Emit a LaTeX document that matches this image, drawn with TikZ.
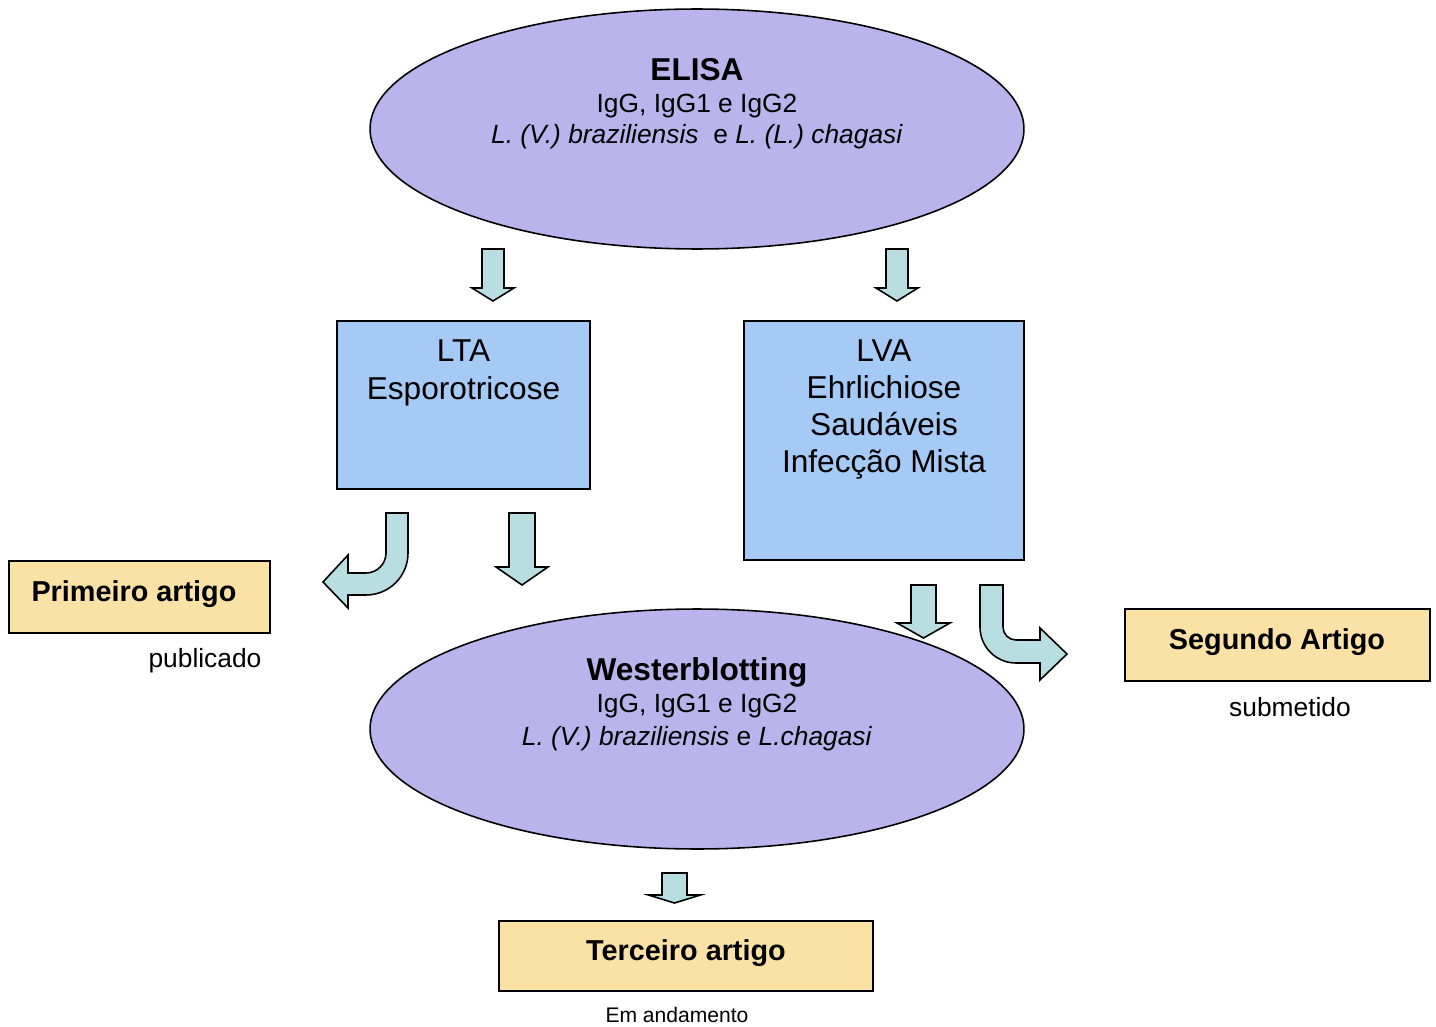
\documentclass[tikz,border=0pt]{standalone}
\usepackage{fontspec}
\setmainfont{Liberation Sans}
\usepackage{xcolor}
\usetikzlibrary{shapes.geometric}
\usetikzlibrary{positioning}

\definecolor{lavender}{RGB}{187,179,236}
\definecolor{boxblue}{RGB}{166,202,246}
\definecolor{paperyellow}{RGB}{250,226,166}
\definecolor{arrowcyan}{RGB}{185,222,225}

% straight block arrow pointing down: centre x, top, neck, tip, half shaft, half head
\newcommand{\downblock}[6]{%
	\draw[blockarrow] (#1-#5,#2) -- (#1+#5,#2) -- (#1+#5,#3) -- (#1+#6,#3) -- (#1,#4) -- (#1-#6,#3) -- (#1-#5,#3) -- cycle;
}

\begin{document}
\begin{tikzpicture}[x=0.02cm,y=-0.02cm,
	blockarrow/.style={draw=black,line width=0.9pt,fill=arrowcyan,line join=miter}]
	\tikzstyle{assay} = [ellipse,draw,line width=0.9pt,fill=lavender,inner sep=0pt,minimum width=13.08cm,minimum height=4.8cm]
	\tikzstyle{groupbox} = [rectangle,draw,line width=0.9pt,fill=boxblue,inner sep=0pt]
	\tikzstyle{paperbox} = [rectangle,draw,line width=0.9pt,fill=paperyellow,inner sep=0pt,minimum height=1.44cm]
	\tikzstyle{papertxt} = [inner sep=0pt,font=\fontsize{16.4}{19}\selectfont\bfseries]
	\tikzstyle{txt} = [inner sep=0pt,align=center]
	\tikzstyle{status} = [inner sep=0pt,font=\fontsize{15}{18}\selectfont]

	\useasboundingbox (0,0) rectangle (1436,1027);

	% assays
	\node[assay] (elisa) at (697,129) {};
	\node[txt,anchor=north,font=\fontsize{15}{18}\selectfont] (elisatxt) at (697,58) {{\fontsize{18}{18}\selectfont\bfseries ELISA}\\
		IgG, IgG1 e IgG2\\
		\textit{L. (V.) braziliensis}\ \ e \textit{L. (L.) chagasi}};
	\node[assay] (wb) at (697,729) {};
	\node[txt,anchor=north,font=\fontsize{15}{18.5}\selectfont] (wbtxt) at (697,657) {{\fontsize{18}{18.5}\selectfont\bfseries Westerblotting}\\
		IgG, IgG1 e IgG2\\
		\textit{L. (V.) braziliensis} e \textit{L.chagasi}};

	% groups
	\node[groupbox,minimum width=5.06cm,minimum height=3.36cm] (lta) at (463.5,405) {};
	\node[txt,below=0.38cm of lta.north,font=\fontsize{18}{21.5}\selectfont] (ltatxt) {LTA\\Esporotricose};
	\node[groupbox,minimum width=5.6cm,minimum height=4.78cm] (lva) at (884,440.5) {};
	\node[txt,below=0.38cm of lva.north,font=\fontsize{18}{21}\selectfont] (lvatxt) {LVA\\Ehrlichiose\\Saudáveis\\Infecção Mista};

	% papers
	\node[paperbox,minimum width=5.22cm] (primeiro) at (139.5,597) {};
	\node[papertxt] (primeirotxt) at (134,594.5) {Primeiro artigo};
	\node[status] (publicado) at (205,661) {publicado};
	\node[paperbox,minimum width=6.1cm] (segundo) at (1277.5,645) {};
	\node[papertxt] (segundotxt) at (1277,642.5) {Segundo Artigo};
	\node[status] (submetido) at (1290,707) {submetido};
	\node[paperbox,minimum width=7.48cm,minimum height=1.4cm] (terceiro) at (686,956) {};
	\node[papertxt] (terceirotxt) at (686,953.5) {Terceiro artigo};
	\node[status,font=\fontsize{12}{14}\selectfont] (andamento) at (677,1015) {Em andamento};

	% block arrows
	\downblock{493}{249}{288}{301}{11}{21}
	\downblock{897}{249}{288}{301}{11}{21}
	\downblock{522}{513}{567}{585}{13}{26}
	\downblock{923.5}{585}{623}{638}{12.5}{26.5}
	\downblock{674.5}{873}{895}{903}{12.5}{26}

	% bent arrow to the left
	\draw[blockarrow] (386,513) -- (408,513) -- (408,553)
		.. controls (408,576.2) and (389.2,595) .. (366,595)
		-- (348,595) -- (348,608) -- (323,582) -- (348,555) -- (348,573) -- (366,573)
		.. controls (377,573) and (386,564) .. (386,553) -- cycle;

	% bent arrow to the right
	\draw[blockarrow] (980,585) -- (1003,585) -- (1003,627)
		.. controls (1003,634.2) and (1008.8,640) .. (1016,640)
		-- (1040,640) -- (1040,628) -- (1067,654) -- (1040,680) -- (1040,663) -- (1016,663)
		.. controls (996.1,663) and (980,646.9) .. (980,627) -- cycle;

\end{tikzpicture}
\end{document}
